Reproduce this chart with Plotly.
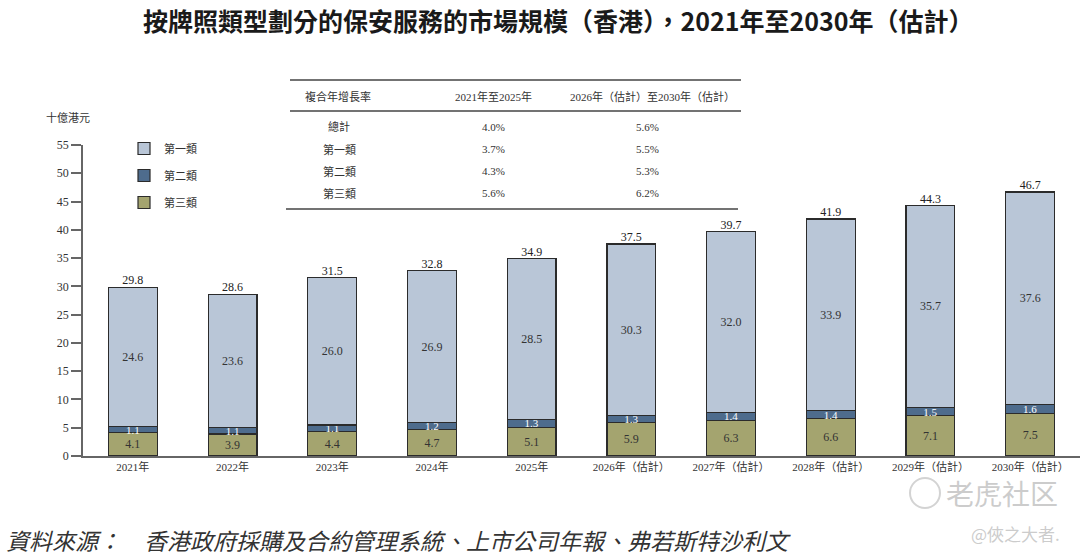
import plotly.graph_objects as go

years = ["2021年", "2022年", "2023年", "2024年", "2025年",
         "2026年（估計）", "2027年（估計）", "2028年（估計）", "2029年（估計）", "2030年（估計）"]
cat1 = [24.6, 23.6, 26.0, 26.9, 28.5, 30.3, 32.0, 33.9, 35.7, 37.6]
cat2 = [1.1, 1.1, 1.1, 1.2, 1.3, 1.3, 1.4, 1.4, 1.5, 1.6]
cat3 = [4.1, 3.9, 4.4, 4.7, 5.1, 5.9, 6.3, 6.6, 7.1, 7.5]
totals = [29.8, 28.6, 31.5, 32.8, 34.9, 37.5, 39.7, 41.9, 44.3, 46.7]

series_names = ["第一類", "第二類", "第三類"]
table_header = ["複合年增長率", "2021年至2025年", "2026年（估計）至2030年（估計）"]
table_rows = ["總計", "第一類", "第二類", "第三類"]
cagr_2125 = ["4.0%", "3.7%", "4.3%", "5.6%"]
cagr_2630 = ["5.6%", "5.5%", "5.3%", "6.2%"]

title = "按牌照類型劃分的保安服務的市場規模（香港），2021年至2030年（估計）"
y_title = "十億港元"
source = "資料來源：　香港政府採購及合約管理系統、上市公司年報、弗若斯特沙利文"

SERIF = "Liberation Serif, Noto Sans CJK TC, serif"
CJK = "Noto Sans CJK TC, sans-serif"
C1, C2, C3 = "#B9C6D7", "#4E6C8D", "#A4A46F"
EDGE = "#2b2b2b"

W, H = 1080, 558
L, R, T, B = 83, 1080, 145, 456  # plot area pixels


def px(x):
    return (x - L) / (R - L)


def py(y):
    return (B - y) / (B - T)


fig = go.Figure()
bar_w = 0.49
for rank, name, vals, col, tcol in [(3, "第三類", cat3, C3, "#333333"),
                                    (2, "第二類", cat2, C2, "#ffffff"),
                                    (1, "第一類", cat1, C1, "#333333")]:
    fig.add_trace(go.Bar(
        x=years, y=vals, name=name, legendgroup=name, legendrank=rank,
        marker=dict(color=col, line=dict(color=EDGE, width=1.2)),
        width=bar_w,
        text=[f"{v:.1f}" for v in vals], texttemplate="%{text}",
        textposition="inside", insidetextanchor="middle",
        constraintext="none",
        textfont=dict(family=SERIF, size=12 if name != "第二類" else 11, color=tcol),
        hoverinfo="skip",
    ))

fig.add_trace(go.Scatter(
    x=years, y=totals, mode="text", text=[f"{v:.1f}" for v in totals],
    textposition="top center", textfont=dict(family=SERIF, size=12, color="#222"),
    showlegend=False, hoverinfo="skip", cliponaxis=False,
))

annotations = []
shapes = []

annotations.append(dict(text=f"<b>{title}</b>", x=px(558), xref="paper", y=py(20), yref="paper",
                        xanchor="center", yanchor="middle", showarrow=False,
                        font=dict(family=CJK, size=25, color="#1a1a1a")))
annotations.append(dict(text=y_title, x=px(68), xref="paper", y=py(117), yref="paper",
                        xanchor="center", yanchor="middle", showarrow=False,
                        font=dict(family=CJK, size=11, color="#333")))
annotations.append(dict(text=f"<i>{source}</i>", x=px(4), xref="paper", y=py(540), yref="paper",
                        xanchor="left", yanchor="middle", showarrow=False,
                        font=dict(family=CJK, size=23, color="#333")))
annotations.append(dict(text="老虎社区", x=px(1060), xref="paper", y=py(493), yref="paper",
                        xanchor="right", yanchor="middle", showarrow=False,
                        font=dict(family=CJK, size=28, color="rgba(190,190,190,0.8)")))
annotations.append(dict(text="@俠之大者.", x=px(1062), xref="paper", y=py(533), yref="paper",
                        xanchor="right", yanchor="middle", showarrow=False,
                        font=dict(family=CJK, size=17, color="rgba(190,190,190,0.8)")))
shapes.append(dict(type="circle", xref="paper", yref="paper",
                   x0=px(910), x1=px(940), y0=py(478), y1=py(508),
                   line=dict(color="rgba(200,200,200,0.8)", width=2)))

# CAGR table
shapes.append(dict(type="line", xref="paper", yref="paper", x0=px(290), x1=px(741),
                   y0=py(80), y1=py(80), line=dict(color="#444", width=1.5)))
shapes.append(dict(type="line", xref="paper", yref="paper", x0=px(290), x1=px(741),
                   y0=py(111), y1=py(111), line=dict(color="#444", width=1.5)))
shapes.append(dict(type="line", xref="paper", yref="paper", x0=px(286), x1=px(738),
                   y0=py(209), y1=py(209), line=dict(color="#444", width=1.5)))
annotations.append(dict(text=table_header[0], x=px(303), xref="paper", y=py(96), yref="paper",
                        xanchor="left", yanchor="middle", showarrow=False,
                        font=dict(family=SERIF, size=11, color="#333")))
annotations.append(dict(text=table_header[1], x=px(493), xref="paper", y=py(96), yref="paper",
                        xanchor="center", yanchor="middle", showarrow=False,
                        font=dict(family=SERIF, size=11, color="#333")))
annotations.append(dict(text=table_header[2], x=px(652), xref="paper", y=py(96), yref="paper",
                        xanchor="center", yanchor="middle", showarrow=False,
                        font=dict(family=SERIF, size=11, color="#333")))
row_y = [127, 149, 171, 193]
for lab, a, b, yy in zip(table_rows, cagr_2125, cagr_2630, row_y):
    for txt, xx in [(lab, 339), (a, 493), (b, 647)]:
        annotations.append(dict(text=txt, x=px(xx), xref="paper", y=py(yy), yref="paper",
                                xanchor="center", yanchor="middle", showarrow=False,
                                font=dict(family=SERIF, size=11, color="#333")))

fig.update_layout(
    width=W, height=H,
    margin=dict(l=L, r=W - R, t=T, b=H - B, pad=0),
    paper_bgcolor="white", plot_bgcolor="white",
    barmode="stack",
    showlegend=True,
    legend=dict(x=px(124), y=py(134), xanchor="left", yanchor="top",
                traceorder="grouped", tracegroupgap=8,
                font=dict(family=CJK, size=11, color="#333"),
                bgcolor="rgba(0,0,0,0)"),
    annotations=annotations,
    shapes=shapes,
    xaxis=dict(range=[-0.5, 9.5], showline=True, linecolor="#666", linewidth=1.5,
               ticks="", showgrid=False, zeroline=False,
               tickfont=dict(family=SERIF, size=11, color="#333")),
    yaxis=dict(range=[0, 55], dtick=5, showline=True, linecolor="#666", linewidth=1.5,
               ticks="outside", ticklen=10, tickwidth=1.5, tickcolor="#666",
               showgrid=False, zeroline=False,
               tickfont=dict(family=SERIF, size=12, color="#333")),
)

fig.write_html("out.html", config={"displayModeBar": False},
               post_script="document.body.style.margin='0';document.body.style.overflow='hidden';")
